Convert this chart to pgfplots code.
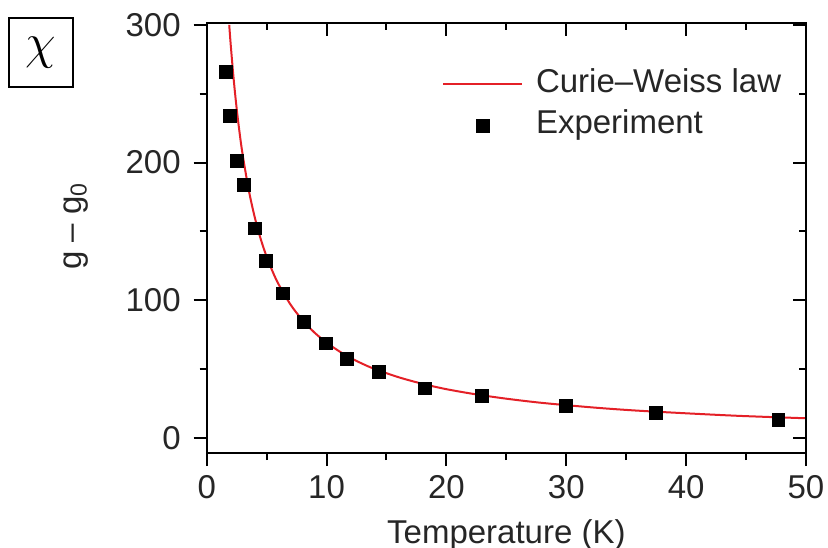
\documentclass[border=0pt]{standalone}
\usepackage{fontspec}
\setmainfont{Liberation Sans}
\usepackage{pgfplots}
\pgfplotsset{compat=1.18}
\definecolor{cwred}{RGB}{228,32,39}
\definecolor{txt}{RGB}{38,38,38}
\pgfplotsset{
  cwline/.style={legend image code/.code={\draw[##1] (0pt,0pt) -- (39.5pt,0pt);}},
  cwmark/.style={legend image code/.code={\draw[mark repeat=2,mark phase=2,##1] plot coordinates {(0pt,0pt) (19.75pt,0pt) (39.5pt,0pt)};}},
  common/.style={
    scale only axis, width=299.65pt, height=214.85pt,
    xmin=0, xmax=50, ymin=-10.7, ymax=301,
    xtick={0,10,...,50}, ytick={0,100,200,300},
    minor xtick={5,15,25,35,45}, minor ytick={50,150,250},
    major tick length=6.5pt, minor tick length=3.5pt,
    every tick/.style={line width=1pt, black},
    axis line style={line width=1pt, black},
    font=\fontsize{16.5}{19.8}\selectfont,
    tick label style={text=txt},
    /pgf/number format/assume math mode=true,
  }
}
\begin{document}
\begin{tikzpicture}
\begin{axis}[common,
  xtick pos=left, ytick pos=left, tick align=outside,
  yticklabel style={xshift=-3pt},
  xticklabel style={yshift=-1pt},
  clip=false,
  xlabel={Temperature (K)},
  ylabel={g – g\textsubscript{0}},
  every axis x label/.style={at={(axis description cs:0.5,0)}, anchor=base, yshift=-45pt, text=txt},
  every axis y label/.style={at={(axis description cs:-0.218,0.528)}, anchor=center, rotate=90, text=txt},
  legend cell align=left,
  legend style={draw=none, fill=none, at={(axis description cs:0.392,0.8102)}, anchor=west,
    row sep=1.4pt, inner sep=0pt,
    /tikz/every odd column/.append style={column sep=4.5pt},
    nodes={text=txt, inner sep=2pt, text height=11.8pt, text depth=3.5pt}},
]
\addplot[cwred, line width=1pt, smooth, cwline]
coordinates {
(1.88,299.9)(2.0,285.9)(2.25,260.5)(2.5,239.2)(2.75,221.2)(3,205.7)(3.5,180.4)
(4,160.6)(4.5,144.7)(5,131.7)(5.5,120.9)(6,111.7)(7,96.9)(8,85.6)(9,76.6)
(10,69.4)(11,63.4)(12,58.3)(13,54.0)(14,50.3)(16,44.3)(18,39.5)(20,35.6)
(22.5,31.8)(25,28.7)(27.5,26.1)(30,24.0)(33,21.8)(36,20.0)(40,18.1)
(44,16.4)(47,15.4)(50,14.5)
};
\addlegendentry{Curie–Weiss law}
\addplot[only marks, mark=square*, mark size=3.2pt,
  mark options={fill=black, draw=black, rounded corners=1.5pt}, cwmark]
coordinates {
(1.58,265.7)(1.94,233.6)(2.55,200.9)(3.11,183.6)(4.03,152.2)(4.94,128.7)
(6.38,105.1)(8.13,84.5)(9.94,68.8)(11.69,57.4)(14.38,48.0)(18.2,36.2)
(22.97,30.9)(29.94,23.6)(37.5,18.3)(47.7,13.3)
};
\addlegendentry{Experiment}
\coordinate (SW) at (rel axis cs:0,0);
\coordinate (NE) at (rel axis cs:1,1);
\coordinate (NW) at (rel axis cs:0,1);
\end{axis}
\begin{axis}[common,
  xtick pos=right, ytick pos=right, tick align=inside,
  xticklabels={}, yticklabels={},
]
\end{axis}
\node[draw, line width=0.6pt, minimum width=32pt, minimum height=34.5pt, inner sep=0pt]
  at ([shift={(-82.85pt,-14.6pt)}]NW) {\fontsize{38}{38}\selectfont$\chi$};
\pgfresetboundingbox
\path ([shift={(-103.35pt,-47pt)}]SW) rectangle ([shift={(11pt,11.65pt)}]NE);
\end{tikzpicture}
\end{document}
